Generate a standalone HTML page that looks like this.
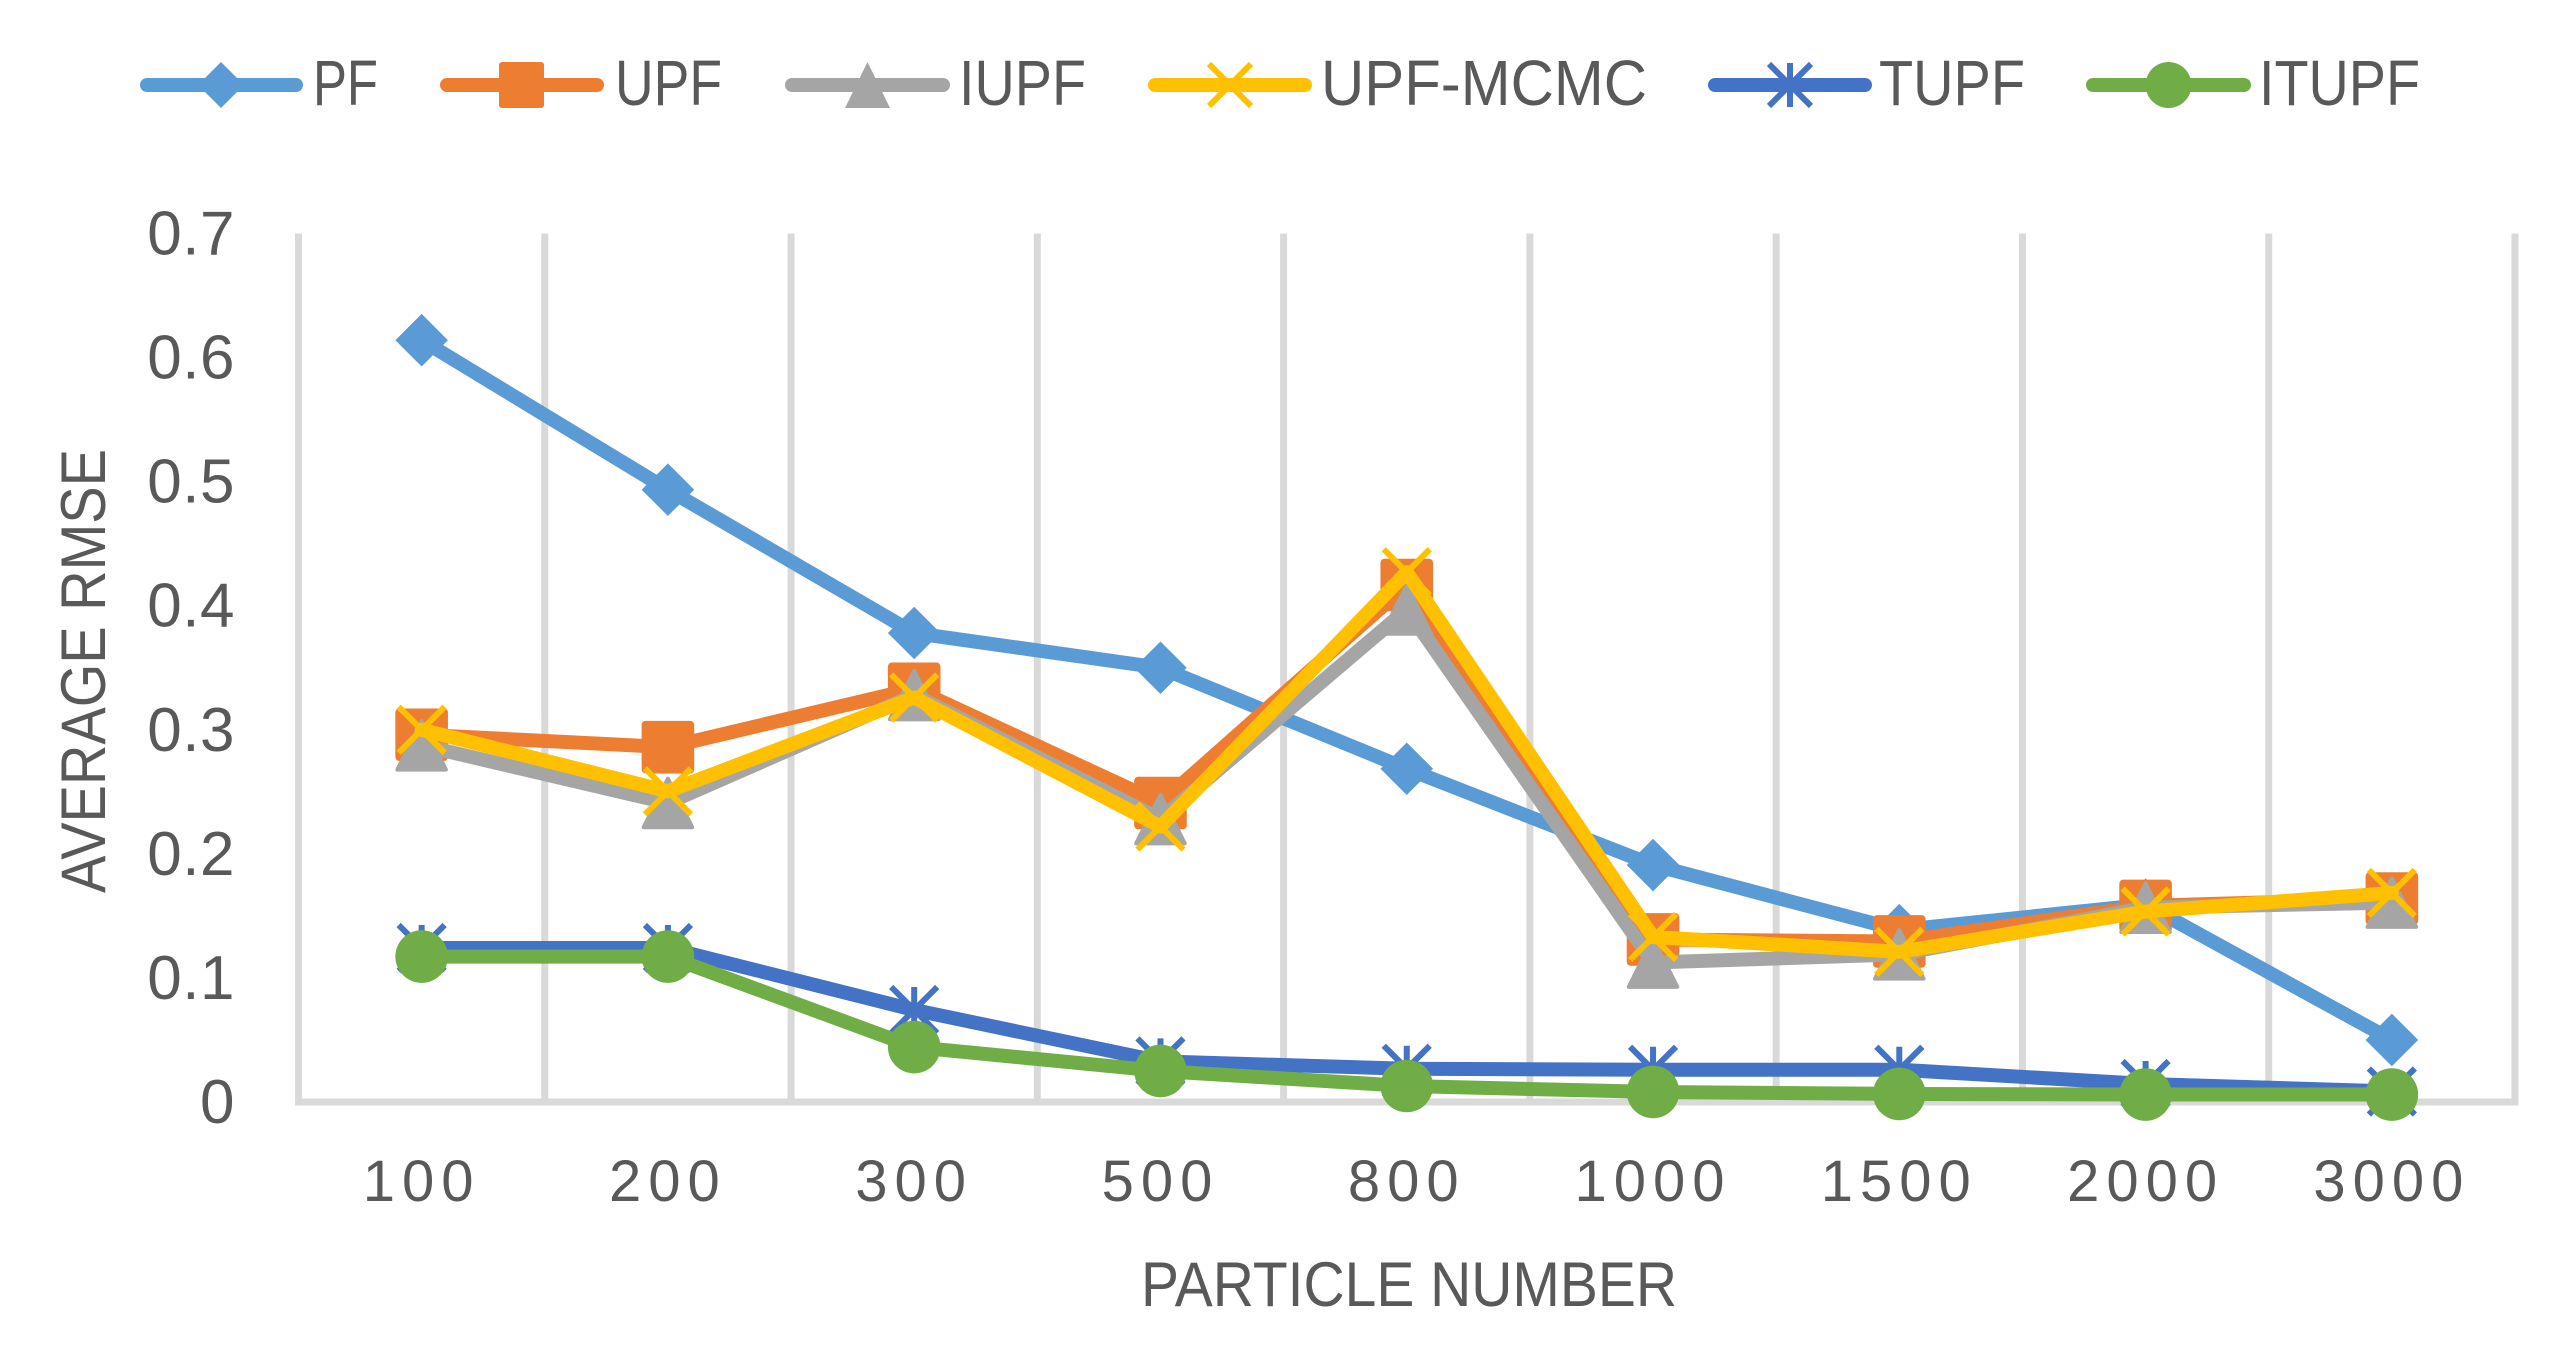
<!DOCTYPE html>
<html lang="en">
<head>
<meta charset="utf-8">
<title>Average RMSE by particle number</title>
<style>
html,body{margin:0;padding:0;background:#fff;width:2567px;height:1352px;overflow:hidden}
svg{display:block}
text{font-family:"Liberation Sans",sans-serif;fill:#595959}
</style>
</head>
<body>
<svg id="chart" xmlns="http://www.w3.org/2000/svg" width="2567" height="1352" viewBox="0 0 2567 1352">
  <rect width="2567" height="1352" fill="#fff"/>
  <g id="grid"></g>
  <g id="yticks"></g>
  <g id="xticks"></g>
  <text transform="translate(105,671) rotate(-90)" text-anchor="middle" font-size="63" textLength="444" lengthAdjust="spacingAndGlyphs">AVERAGE RMSE</text>
  <text x="1141" y="1306" font-size="63" textLength="536" lengthAdjust="spacingAndGlyphs">PARTICLE NUMBER</text>
  <g id="series"></g>

  <g>
    <g>
      <line x1="147" y1="85" x2="296" y2="85" stroke="#5b9bd5" stroke-width="14" stroke-linecap="round"/>
      <path d="M221,62 L244,85 L221,108 L198,85Z" fill="#5b9bd5"/>
      <text x="313" y="105" font-size="64" textLength="65" lengthAdjust="spacingAndGlyphs">PF</text>
    </g>
    <g>
      <line x1="447" y1="85" x2="597" y2="85" stroke="#ed7d31" stroke-width="14" stroke-linecap="round"/>
      <rect x="499" y="62" width="45" height="46" rx="3" fill="#ed7d31"/>
      <text x="615" y="105" font-size="64" textLength="107" lengthAdjust="spacingAndGlyphs">UPF</text>
    </g>
    <g>
      <line x1="792" y1="85" x2="943" y2="85" stroke="#a5a5a5" stroke-width="14" stroke-linecap="round"/>
      <path d="M867.5,62 L890,108 L845,108Z" fill="#a5a5a5"/>
      <text x="959" y="105" font-size="64" textLength="127" lengthAdjust="spacingAndGlyphs">IUPF</text>
    </g>
    <g>
      <line x1="1155" y1="85" x2="1305" y2="85" stroke="#ffc000" stroke-width="14" stroke-linecap="round"/>
      <path d="M1209,64 L1251,106 M1251,64 L1209,106" fill="none" stroke="#ffc000" stroke-width="6"/>
      <text x="1321" y="105" font-size="64" textLength="326" lengthAdjust="spacingAndGlyphs">UPF-MCMC</text>
    </g>
    <g>
      <line x1="1715" y1="85" x2="1865" y2="85" stroke="#4472c4" stroke-width="14" stroke-linecap="round"/>
      <path d="M1769,64 L1811,106 M1811,64 L1769,106 M1790,63 V107" fill="none" stroke="#4472c4" stroke-width="6"/>
      <text x="1879" y="105" font-size="64" textLength="146" lengthAdjust="spacingAndGlyphs">TUPF</text>
    </g>
    <g>
      <line x1="2093" y1="85" x2="2244" y2="85" stroke="#70ad47" stroke-width="14" stroke-linecap="round"/>
      <circle cx="2168.5" cy="85" r="23" fill="#70ad47"/>
      <text x="2259" y="105" font-size="64" textLength="161" lengthAdjust="spacingAndGlyphs">ITUPF</text>
    </g>
  </g>
</svg>
<script>
const categories = ['100','200','300','500','800','1000','1500','2000','3000'];
const yTickLabels = ['0','0.1','0.2','0.3','0.4','0.5','0.6','0.7'];
const yTickValues = [0,0.1,0.2,0.3,0.4,0.5,0.6,0.7];
const pfValues = [0.614,0.4935,0.378,0.350,0.2686,0.191,0.1385,0.159,0.050];
const upfValues = [0.296,0.286,0.333,0.241,0.4167,0.131,0.1294,0.158,0.164];
const iupfValues = [0.2875,0.241,0.328,0.228,0.397,0.1124,0.119,0.1566,0.1607];
const upfMcmcValues = [0.3,0.2504,0.326,0.222,0.427,0.133,0.121,0.1535,0.1685];
const tupfValues = [0.1241,0.1241,0.0742,0.0327,0.0268,0.026,0.026,0.0145,0.0085];
const itupfValues = [0.1172,0.1172,0.0443,0.025,0.0129,0.0081,0.0065,0.006,0.006];

const NS = 'http://www.w3.org/2000/svg';
const plotLeft = 298.5, plotRight = 2515, plotTop = 233.5, plotBottom = 1102, yMax = 0.7;
const band = (plotRight - plotLeft) / categories.length;
function xScale(i){ return plotLeft + band * (i + 0.5); }
function yScale(v){ return plotBottom - (v / yMax) * (plotBottom - plotTop); }
function make(tag, attrs, parent){
  const e = document.createElementNS(NS, tag);
  for (const k in attrs) e.setAttribute(k, attrs[k]);
  parent.appendChild(e);
  return e;
}

const grid = document.getElementById('grid');
for (let i = 0; i <= categories.length; i++) {
  const x = plotLeft + band * i;
  const gl = make('line', {x1:x, x2:x, y1:plotTop, y2:plotBottom, stroke:'#d9d9d9', 'stroke-width':7}, grid);
  
  
}
const axisLine = make('line', {x1:plotLeft-3.5, x2:plotRight+3.5, y1:plotBottom, y2:plotBottom, stroke:'#d9d9d9', 'stroke-width':7}, grid);



const yticks = document.getElementById('yticks');
yTickValues.forEach((v, i) => {
  const t = make('text', {x:235, y:yScale(v)+21, 'text-anchor':'end', 'font-size':62, 'letter-spacing':0.5}, yticks);
  
  
  t.textContent = yTickLabels[i];
});

const xticks = document.getElementById('xticks');
categories.forEach((c, i) => {
  const t = make('text', {x:xScale(i), y:1201, 'text-anchor':'middle', 'font-size':58, 'letter-spacing':7}, xticks);
  
  
  t.textContent = c;
});

function drawMarker(kind, x, y, color, parent){
  const r = 26.3;
  const a = 23;
  let m;
  if (kind === 'diamond') {
    m = make('path', {d:`M${x},${y-r} L${x+r},${y} L${x},${y+r} L${x-r},${y}Z`, fill:color}, parent);
  } else if (kind === 'square') {
    m = make('rect', {x:x-r, y:y-r, width:2*r, height:2*r, rx:4, fill:color}, parent);
  } else if (kind === 'triangle') {
    m = make('path', {d:`M${x},${y-r+2} L${x+r-2},${y+r-2} L${x-r+2},${y+r-2}Z`, fill:color, stroke:color, 'stroke-width':4, 'stroke-linejoin':'round'}, parent);
  } else if (kind === 'x') {
    m = make('path', {d:`M${x-a},${y-a} L${x+a},${y+a} M${x+a},${y-a} L${x-a},${y+a}`, fill:'none', stroke:color, 'stroke-width':6}, parent);
  } else if (kind === 'star') {
    m = make('path', {d:`M${x-a},${y-a} L${x+a},${y+a} M${x+a},${y-a} L${x-a},${y+a} M${x},${y-a} V${y+a}`, fill:'none', stroke:color, 'stroke-width':6}, parent);
  } else {
    m = make('circle', {cx:x, cy:y, r:r, fill:color}, parent);
  }
  
  
}

function drawSeries(slug, values, color, kind){
  const host = document.getElementById('series');
  const g = make('g', {}, host);
  
  
  const pts = values.map((v, i) => xScale(i) + ',' + yScale(v)).join(' ');
  const line = make('polyline', {points:pts, fill:'none', stroke:color, 'stroke-width':14, 'stroke-linejoin':'round', 'stroke-linecap':'round'}, g);
  
  
  values.forEach((v, i) => drawMarker(kind, xScale(i), yScale(v), color, g));
}

drawSeries('pf', pfValues, '#5b9bd5', 'diamond');
drawSeries('upf', upfValues, '#ed7d31', 'square');
drawSeries('iupf', iupfValues, '#a5a5a5', 'triangle');
drawSeries('upf-mcmc', upfMcmcValues, '#ffc000', 'x');
drawSeries('tupf', tupfValues, '#4472c4', 'star');
drawSeries('itupf', itupfValues, '#70ad47', 'circle');
</script>
</body>
</html>
